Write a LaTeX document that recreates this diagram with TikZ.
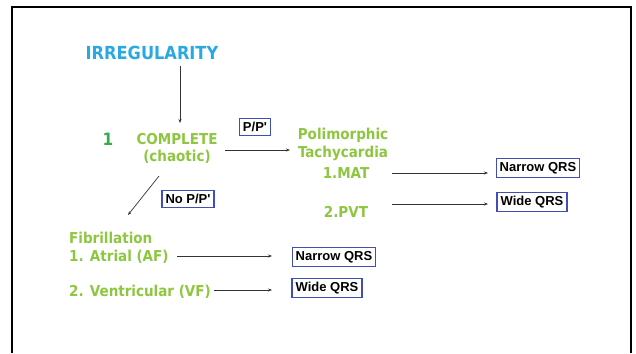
\documentclass[tikz,border=0pt]{standalone}
\usepackage{fontspec}
\setmainfont{DejaVu Sans}
\newfontfamily\headfont{DejaVu Sans Condensed}
\newfontfamily\boxfont{Liberation Sans}
\usetikzlibrary{arrows.meta}
\definecolor{titleblue}{HTML}{29A9E1}
\definecolor{leafgreen}{HTML}{8DC63F}
\definecolor{numgreen}{HTML}{2FAE4E}
\definecolor{boxblue}{HTML}{3F4FB5}
\definecolor{arrowgray}{HTML}{333333}
\begin{document}
\begin{tikzpicture}[x=1pt,y=-1pt,
  title/.style={font=\headfont\bfseries\fontsize{18}{20}\selectfont, text=titleblue, inner sep=0pt},
  gtext/.style={font=\headfont\bfseries\fontsize{15}{18}\selectfont, text=leafgreen, inner sep=0pt, align=center},
  gleft/.style={gtext, anchor=west, align=left},
  qbox/.style={draw=boxblue, line width=1.3pt, fill=white, inner xsep=3.5pt, inner ysep=3.5pt,
    font=\boxfont\bfseries\fontsize{13}{15}\selectfont, text=black},
  arr/.style={draw=arrowgray, line width=0.7pt, -{Stealth[length=4pt,width=3pt]}}
]
\useasboundingbox (0,0) rectangle (636,353);
% open frame
\draw[line width=2pt, black] (12,353) -- (12,7) -- (631,7) -- (631,353);

% headings and categories
\node[title] (irr) at (152,53) {IRREGULARITY};
\node[font=\headfont\bfseries\fontsize{17}{20}\selectfont, text=numgreen, inner sep=0pt] (one) at (108,139) {1};
\node[gtext] (comp) at (177,139) {COMPLETE};
\node[gtext] (chao) at (177,157) {(chaotic)};
\node[gtext] (poli) at (343,135) {Polimorphic};
\node[gtext] (tachy) at (343,153) {Tachycardia};
\node[gtext] (mat) at (346,173) {1.MAT};
\node[gtext] (pvt) at (346,212) {2.PVT};
\node[gleft] (fib) at (69,238) {Fibrillation};
\node[gleft] (af) at (69,257) {1. Atrial (AF)};
\node[gleft] (vf) at (69,292) {2. Ventricular (VF)};

% labelled boxes
\node[qbox] (pp) at (255,127) {P/P'};
\node[qbox] (nopp) at (188,199) {No P/P'};
\node[qbox] (nq1) at (538,168) {Narrow QRS};
\node[qbox] (wq1) at (532,202) {Wide QRS};
\node[qbox] (nq2) at (334,257) {Narrow QRS};
\node[qbox] (wq2) at (327,288) {Wide QRS};

% connector end points
\coordinate (vA) at (180,66);   \coordinate (vB) at (180,123);
\coordinate (hA) at (225,150);  \coordinate (hB) at (290,150);
\coordinate (dA) at (159,176);  \coordinate (dB) at (128,215);
\coordinate (mA) at (392,173);  \coordinate (mB) at (488,173);
\coordinate (pA) at (392,204);  \coordinate (pB) at (488,204);
\coordinate (aA) at (177,256);  \coordinate (aB) at (272,256);
\coordinate (bA) at (214,290);  \coordinate (bB) at (272,290);

% connectors
\draw[arr] (vA) -- (vB);
\draw[arr] (hA) -- (hB);
\draw[arr] (dA) -- (dB);
\draw[arr] (mA) -- (mB);
\draw[arr] (pA) -- (pB);
\draw[arr] (aA) -- (aB);
\draw[arr] (bA) -- (bB);
\end{tikzpicture}
\end{document}
